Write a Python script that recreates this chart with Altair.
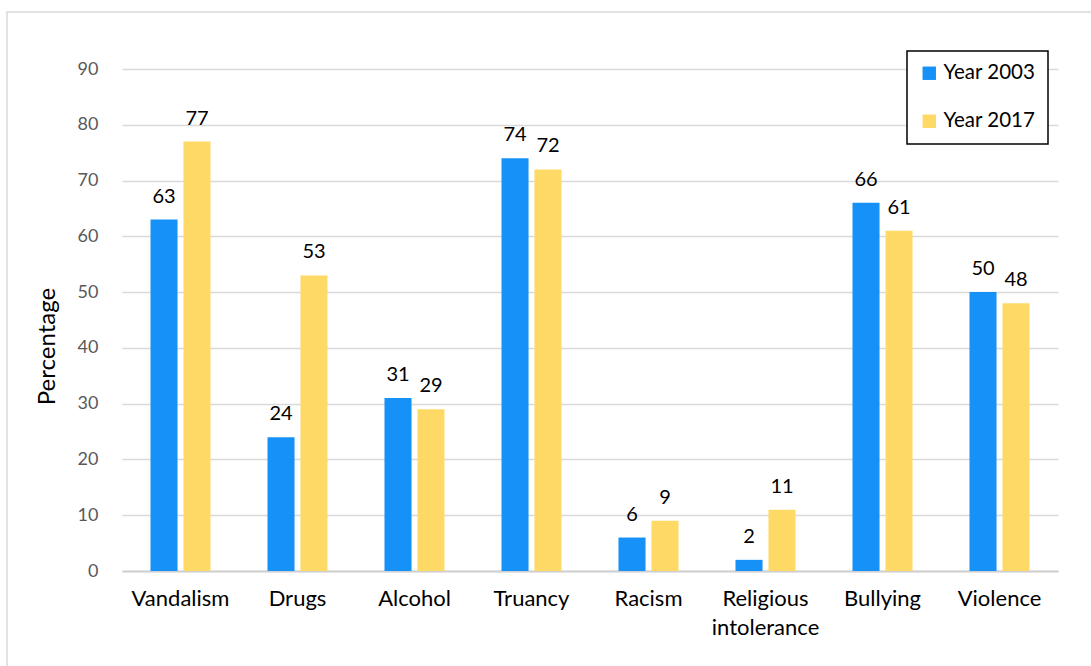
import altair as alt
import pandas as pd

# Survey results: share of respondents naming each problem
categories = ["Vandalism", "Drugs", "Alcohol", "Truancy", "Racism",
              "Religious intolerance", "Bullying", "Violence"]
year_2003 = [63, 24, 31, 74, 6, 2, 66, 50]
year_2017 = [77, 53, 29, 72, 9, 11, 61, 48]
series_names = ["Year 2003", "Year 2017"]
series_colors = ["#1591F7", "#FFD966"]
y_ticks = [0, 10, 20, 30, 40, 50, 60, 70, 80, 90]

rows = []
for cat, a, b in zip(categories, year_2003, year_2017):
    rows.append({"problem": cat, "year": series_names[0], "value": a})
    rows.append({"problem": cat, "year": series_names[1], "value": b})
df = pd.DataFrame(rows)

FONT = "Lato"

x_enc = alt.X(
    "problem:N",
    sort=categories,
    scale=alt.Scale(paddingInner=0.487, paddingOuter=0.2435),
    axis=alt.Axis(
        title=None,
        labelAngle=0,
        labelFontSize=22,
        labelColor="#000000",
        labelFont=FONT,
        labelPadding=17,
        labelLineHeight=29,
        labelBaseline="top",
        ticks=False,
        domainColor="#D0D0D0",
        domainWidth=2,
        labelExpr="datum.label == 'Religious intolerance' ? ['Religious', 'intolerance'] : datum.label",
    ),
)
xoff_enc = alt.XOffset("year:N", sort=series_names,
                       scale=alt.Scale(paddingInner=0.18, paddingOuter=0))
y_enc = alt.Y(
    "value:Q",
    scale=alt.Scale(domain=[0, 90], nice=False),
    axis=alt.Axis(
        title="Percentage",
        titleFont=FONT,
        titleFontSize=24,
        titleFontWeight="normal",
        titleColor="#000000",
        titlePadding=18,
        titleY=277,
        values=y_ticks,
        labelFont=FONT,
        labelFontSize=18,
        labelColor="#595959",
        labelPadding=24,
        ticks=False,
        domain=False,
        grid=True,
        gridColor="#D9D9D9",
        gridWidth=1.5,
    ),
)
color_enc = alt.Color(
    "year:N",
    sort=series_names,
    scale=alt.Scale(domain=series_names, range=series_colors),
    legend=alt.Legend(
        title=None,
        orient="none",
        legendX=785,
        legendY=-18,
        symbolType="square",
        symbolSize=180,
        symbolStrokeWidth=0,
        labelFont=FONT,
        labelFontSize=20.5,
        labelColor="#000000",
        rowPadding=27,
        padding=12,
        strokeColor="#000000",
        fillColor="#FFFFFF",
        labelOffset=4,
    ),
)

bars = alt.Chart(df).mark_bar().encode(
    x=x_enc, xOffset=xoff_enc, y=y_enc, color=color_enc
)

labels = alt.Chart(df).mark_text(
    baseline="bottom", dy=-13, fontSize=20, font=FONT, color="#000000"
).encode(
    x=alt.X("problem:N", sort=categories),
    xOffset=alt.XOffset("year:N", sort=series_names),
    y="value:Q",
    text="value:Q",
)

frame = alt.Chart(alt.Data(values=[{}])).mark_rect(
    fill=None, stroke="#D9D9D9", strokeWidth=1.5
).encode(
    x=alt.value(-115), x2=alt.value(1200), y=alt.value(-57), y2=alt.value(700)
)

chart = alt.layer(frame, bars, labels).properties(
    width=936,
    height=502,
    padding={"left": 122, "top": 69, "right": 33, "bottom": 95},
    autosize=alt.AutoSizeParams(type="none"),
    background="#FFFFFF",
).configure_view(stroke=None).configure_legend(strokeWidth=1.5)

chart.save("out.html", embed_options={"renderer": "svg", "actions": False})
